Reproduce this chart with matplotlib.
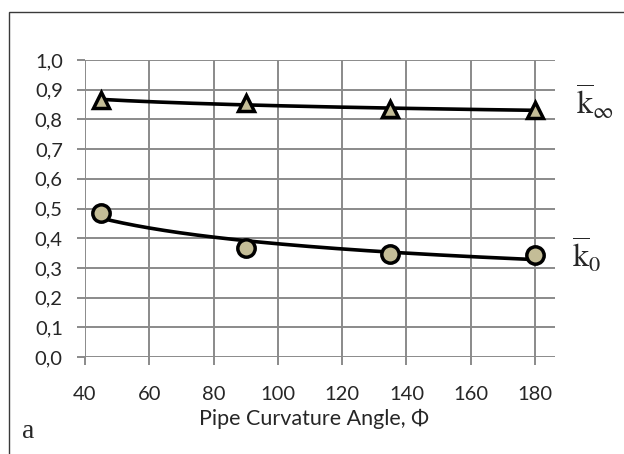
import numpy as np
import matplotlib
matplotlib.use("Agg")
import matplotlib.pyplot as plt
from matplotlib.patches import Rectangle

# Measured data
angles = [45, 90, 135, 180]
k_inf = [0.865, 0.855, 0.835, 0.830]
k_zero = [0.484, 0.368, 0.347, 0.343]

x_ticks = [40, 60, 80, 100, 120, 140, 160, 180]
y_ticks = [0.0, 0.1, 0.2, 0.3, 0.4, 0.5, 0.6, 0.7, 0.8, 0.9, 1.0]
y_tick_labels = [f"{v:.1f}".replace(".", ",") for v in y_ticks]
x_label = "Pipe Curvature Angle, Φ"

W, H = 624, 454
fig = plt.figure(figsize=(W / 100, H / 100), dpi=100)
fig.patch.set_facecolor("white")

# outer frame (left and top edges visible)
fig.patches.append(Rectangle((9 / W, -0.2), 1.2, 1.2 - 12 / H,
                             transform=fig.transFigure, fill=False,
                             edgecolor="#3a3a3a", lw=1.0))

ax = fig.add_axes([85 / W, 1 - 357 / H, (555 - 85) / W, (357 - 60) / H])
ax.set_xlim(40, 186.2)
ax.set_ylim(0, 1.0)

grid_c = "#8a8a8a"
for s in ax.spines.values():
    s.set_visible(False)
ax.set_xticks(x_ticks)
ax.set_yticks(y_ticks)
ax.set_yticklabels(y_tick_labels)
ax.grid(True, color=grid_c, lw=1.4)
ax.set_axisbelow(True)
ax.tick_params(axis="both", color=grid_c, width=1.4, length=6, direction="out",
               labelsize=14.5, labelcolor="#262626")
ax.tick_params(axis="y", pad=10)
ax.tick_params(axis="x", pad=15)
for lab in ax.get_xticklabels() + ax.get_yticklabels():
    lab.set_family("Lato")

# power-law trend lines through each series
def power_trend(x, y, xs):
    b, a = np.polyfit(np.log(x), np.log(y), 1)
    return np.exp(a) * xs ** b

xs = np.linspace(angles[0], angles[-1], 200)
ax.plot(xs, power_trend(angles, k_inf, xs), color="black", lw=2.6, zorder=3)
ax.plot(xs, power_trend(angles, k_zero, xs), color="black", lw=2.6, zorder=3)

fill_c = "#c4bd97"
ax.plot(angles, k_inf, linestyle="none", marker="^", markersize=12,
        markerfacecolor=fill_c, markeredgecolor="black", markeredgewidth=2.5,
        zorder=4, clip_on=False)
ax.plot(angles, k_zero, linestyle="none", marker="o", markersize=12.5,
        markerfacecolor=fill_c, markeredgecolor="black", markeredgewidth=2.5,
        zorder=4, clip_on=False)

fig.text(314 / W, 1 - 419 / H, x_label, family="Lato", fontsize=15.5,
         color="#262626", ha="center", va="center")

plt.rcParams["mathtext.fontset"] = "stix"
fig.text(576 / W, 1 - 115 / H, r"$\overline{\mathrm{k}}_{\infty}$",
         fontsize=23, color="#262626", ha="left", va="baseline")
fig.text(572 / W, 1 - 268 / H, r"$\overline{\mathrm{k}}_{0}$",
         fontsize=23, color="#262626", ha="left", va="baseline")
fig.text(22 / W, 1 - 438 / H, "a", family="Liberation Serif", fontsize=20,
         color="#262626", ha="left", va="baseline")

fig.savefig("out.png", dpi=100)
